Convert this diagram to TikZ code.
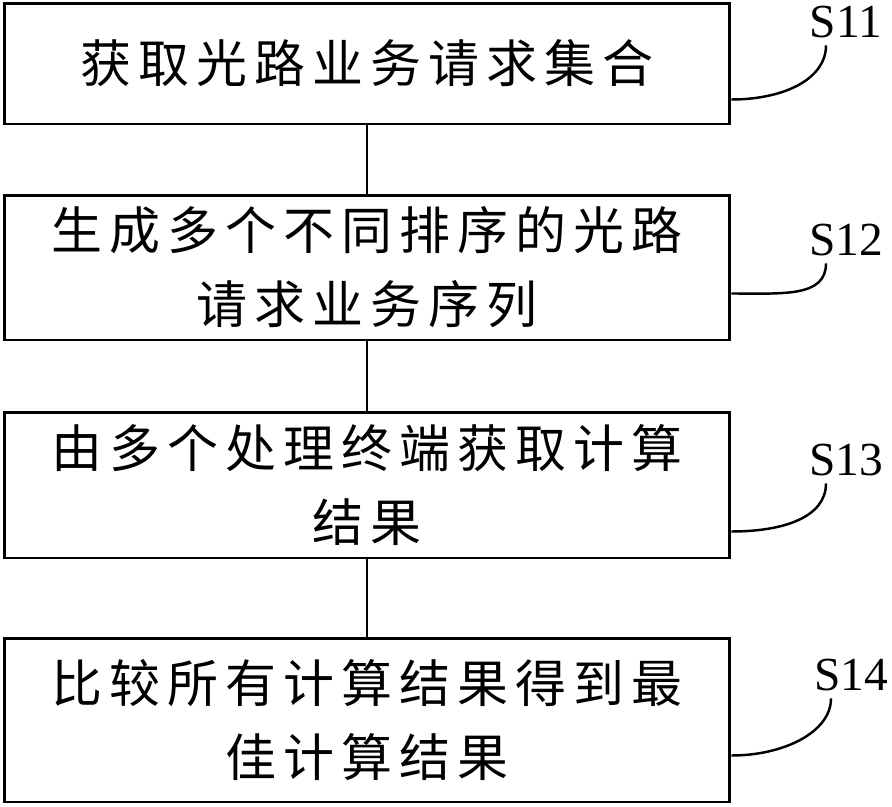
\documentclass[tikz,border=0pt]{standalone}
\usepackage{fontspec}
\setmainfont{Liberation Serif}
\newfontfamily\cjk[LetterSpace=14]{Noto Sans CJK SC}
\begin{document}
\begin{tikzpicture}[x=0.02cm,y=-0.02cm,
  stepbox/.style={draw,line width=1.7pt,minimum width=14.52cm,align=center,
    font=\cjk\fontsize{29pt}{42pt}\selectfont},
  steplabel/.style={font=\fontsize{27pt}{30pt}\selectfont,inner sep=4pt},
  link/.style={line width=1.2pt},
  hook/.style={line width=1.4pt}]
\useasboundingbox (0,0) rectangle (892,806);
\node (b11) [stepbox,minimum height=2.42cm] at (367,63.5) {获取光路业务请求集合};
\node (b12) [stepbox,minimum height=2.9cm] at (367,267.5) {生成多个不同排序的光路\\请求业务序列};
\node (b13) [stepbox,minimum height=2.92cm] at (367,485) {由多个处理终端获取计算\\结果};
\node (b14) [stepbox,minimum height=3.28cm] at (367,720) {比较所有计算结果得到最\\佳计算结果};
\draw [link] (b11) -- (b12);
\draw [link] (b12) -- (b13);
\draw [link] (b13) -- (b14);
\node (l11) [steplabel] at (846,22) {S11};
\node (l12) [steplabel] at (846,240) {S12};
\node (l13) [steplabel] at (846,460) {S13};
\node (l14) [steplabel] at (851,675) {S14};
\draw [hook] ([xshift=-0.4cm]l11.south) .. controls +(0,34) and +(52,0) .. ([yshift=0.52cm]b11.south east);
\draw [hook] ([xshift=-0.4cm]l12.south) .. controls +(0,34) and +(52,0) .. ([yshift=0.96cm]b12.south east);
\draw [hook] ([xshift=-0.4cm]l13.south) .. controls +(0,34) and +(52,0) .. ([yshift=0.56cm]b13.south east);
\draw [hook] ([xshift=-0.4cm]l14.south) .. controls +(0,34) and +(52,0) .. ([yshift=0.96cm]b14.south east);
\end{tikzpicture}
\end{document}
